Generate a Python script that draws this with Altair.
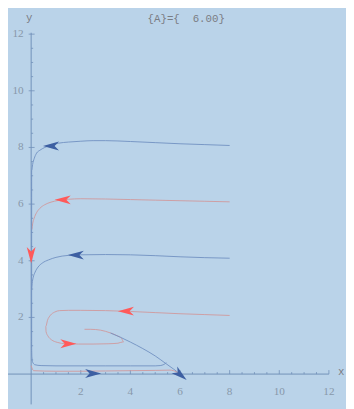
import altair as alt
import pandas as pd

# ---- trajectories ----
blue8_x = [8.0, 7.0, 6.0, 5.0, 4.0, 3.0, 2.5, 2.0, 1.5, 1.1, 0.8, 0.55, 0.35, 0.22, 0.12, 0.06, 0.03]
blue8_y = [8.07, 8.1, 8.13, 8.17, 8.21, 8.24, 8.24, 8.22, 8.19, 8.15, 8.08, 8.0, 7.9, 7.8, 7.6, 7.4, 7.2]

red6_x = [8.0, 7.0, 6.0, 5.0, 4.0, 3.0, 2.0, 1.5, 1.1, 0.8, 0.55, 0.35, 0.22, 0.12, 0.06, 0.03]
red6_y = [6.08, 6.1, 6.12, 6.14, 6.16, 6.18, 6.19, 6.17, 6.13, 6.07, 5.98, 5.85, 5.7, 5.5, 5.3, 5.1]

blue4_x = [8.0, 7.0, 6.0, 5.0, 4.0, 3.0, 2.0, 1.5, 1.0, 0.7, 0.45, 0.28, 0.16, 0.08, 0.04, 0.02]
blue4_y = [4.09, 4.11, 4.14, 4.18, 4.21, 4.22, 4.21, 4.19, 4.12, 4.03, 3.92, 3.78, 3.6, 3.4, 3.2, 3.0]

red2_x = [8.0, 7.0, 6.0, 5.0, 4.0, 3.0, 2.0, 1.5, 1.15, 0.95, 0.78, 0.66, 0.59, 0.6, 0.68, 0.82,
          1.05, 1.4, 1.9, 2.5, 3.1, 3.5, 3.72, 3.65, 3.45, 3.2, 2.8, 2.4, 2.15]
red2_y = [2.07, 2.1, 2.13, 2.17, 2.21, 2.24, 2.25, 2.25, 2.24, 2.19, 2.08, 1.9, 1.68, 1.5, 1.34, 1.21,
          1.12, 1.07, 1.06, 1.06, 1.07, 1.09, 1.14, 1.25, 1.36, 1.45, 1.55, 1.58, 1.58]

blueS_x = [3.2, 3.6, 4.0, 4.5, 5.0, 5.4, 5.75, 6.0]
blueS_y = [1.45, 1.3, 1.13, 0.9, 0.64, 0.39, 0.17, 0.0]

blueL_x = [0.02, 0.02, 0.03, 0.06, 0.15, 0.4, 1.0, 2.0, 3.0, 4.0, 5.0, 5.2, 5.35, 5.45]
blueL_y = [7.2, 1.0, 0.6, 0.42, 0.33, 0.3, 0.29, 0.29, 0.29, 0.29, 0.29, 0.3, 0.34, 0.4]

redL_x = [0.0, 0.1, 1.0, 2.0, 3.0, 4.0, 5.0, 5.6, 5.85, 6.0]
redL_y = [0.3, 0.12, 0.1, 0.1, 0.11, 0.12, 0.13, 0.14, 0.08, 0.0]

# ---- arrow heads ----
arrow_x = [0.8, 1.27, 1.8, 0.0, 3.82, 1.5, 2.5, 6.02]
arrow_y = [8.05, 6.15, 4.2, 4.2, 2.22, 1.07, 0.02, -0.03]
arrow_angle = [180, 180, 180, 90, 180, 0, 0, 40]
arrow_kind = ["blue", "red", "blue", "red", "red", "red", "blue", "blue"]

# ---- axes ----
x_ticks = [2, 4, 6, 8, 10, 12]
y_ticks = [2, 4, 6, 8, 10, 12]
title_text = "{A}={\u00a0\u00a06.00}"

curves = [
    ("blue8", "blue", blue8_x, blue8_y),
    ("red6", "red", red6_x, red6_y),
    ("blue4", "blue", blue4_x, blue4_y),
    ("red2", "red", red2_x, red2_y),
    ("blueS", "blue", blueS_x, blueS_y),
    ("blueL", "blue", blueL_x, blueL_y),
    ("redL", "red", redL_x, redL_y),
]
rows = []
for name, kind, xs_, ys_ in curves:
    for i, (a, b) in enumerate(zip(xs_, ys_)):
        rows.append(dict(curve=name, kind=kind, i=i, x=a, y=b))
lines_df = pd.DataFrame(rows)

arrows_df = pd.DataFrame(dict(x=arrow_x, y=arrow_y, angle=arrow_angle, kind=arrow_kind))

xs = alt.Scale(domain=[-0.933, 12.689], nice=False, zero=False)
ys = alt.Scale(domain=[-1.069, 12.759], nice=False, zero=False)

def X(f="x"):
    return alt.X(f, type="quantitative", scale=xs, axis=None)

def Y(f="y"):
    return alt.Y(f, type="quantitative", scale=ys, axis=None)

AXIS_COL = "#7190b8"

axes_df = pd.DataFrame(dict(x=[-0.93, 0.0], x2=[12.0, 0.0], y=[0.0, -1.07], y2=[0.0, 12.05]))
axes = alt.Chart(axes_df).mark_rule(color=AXIS_COL, strokeWidth=1).encode(
    x=X(), x2="x2", y=Y(), y2="y2")

# tick marks
tk = []
for k in range(1, 25):
    v = k * 0.5
    major = v in x_ticks
    tk.append(dict(x=v, x2=v, y=0.0, y2=0.14 if major else 0.07))
for k in range(1, 25):
    v = k * 0.5
    major = v in y_ticks
    tk.append(dict(x=-0.1 if major else 0.0, x2=0.14 if major else 0.08, y=v, y2=v))
ticks = alt.Chart(pd.DataFrame(tk)).mark_rule(color=AXIS_COL, strokeWidth=0.8).encode(
    x=X(), x2="x2", y=Y(), y2="y2")

xlab_df = pd.DataFrame(dict(x=x_ticks, y=[-0.62] * len(x_ticks), t=[str(v) for v in x_ticks]))
xlabels = alt.Chart(xlab_df).mark_text(font="Liberation Serif", fontSize=11.5, color="#8898aa",
                                       baseline="middle", align="center").encode(
    x=X(), y=Y(), text="t:N")
ylab_df = pd.DataFrame(dict(x=[-0.3] * len(y_ticks), y=y_ticks, t=[str(v) for v in y_ticks]))
ylabels = alt.Chart(ylab_df).mark_text(font="Liberation Serif", fontSize=11.5, color="#8898aa",
                                       baseline="middle", align="right").encode(
    x=X(), y=Y(), text="t:N")

txt_df = pd.DataFrame(dict(x=[6.25, -0.08, 12.5], y=[12.52, 12.58, 0.07],
                           t=[title_text, "y", "x"]))
texts = alt.Chart(txt_df).mark_text(font="Liberation Mono", fontSize=11, color="#7a7d84",
                                    baseline="middle", align="center").encode(
    x=X(), y=Y(), text="t:N")

color_scale = alt.Scale(domain=["blue", "red"], range=["#6f8fc0", "#d0979b"])
lines = alt.Chart(lines_df).mark_line(strokeWidth=0.9, interpolate="monotone").encode(
    x=X(), y=Y(), detail="curve:N", order="i:Q",
    color=alt.Color("kind:N", scale=color_scale, legend=None))

arrow_shape = "M1,0 L-1,-0.55 L-0.45,0 L-1,0.55 Z"
arrows = alt.Chart(arrows_df).mark_point(shape=arrow_shape, filled=True, opacity=1,
                                         size=270, strokeWidth=0).encode(
    x=X(), y=Y(), angle=alt.Angle("angle:Q", scale=None),
    color=alt.Color("kind:N", scale=alt.Scale(domain=["blue", "red"],
                                              range=["#3d5fa2", "#ff5a5a"]), legend=None))

chart = alt.layer(axes, ticks, lines, arrows, xlabels, ylabels, texts).properties(
    width=346, height=401, background="#bad3e9", padding=0,
    autosize=alt.AutoSizeParams(type="none")
).resolve_scale(color="independent").configure_view(stroke=None)

chart.save("out.html", embed_options={"renderer": "svg", "actions": False})
